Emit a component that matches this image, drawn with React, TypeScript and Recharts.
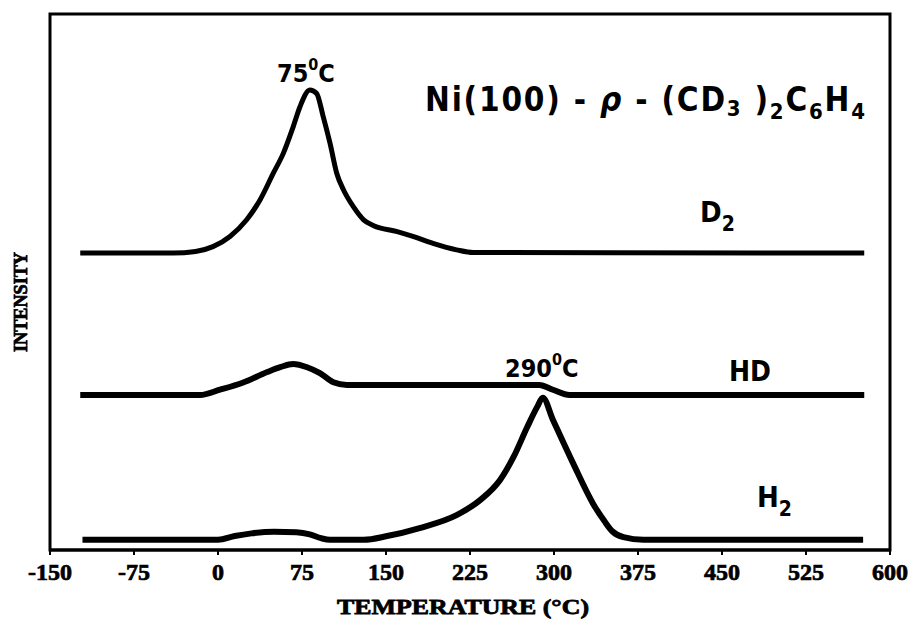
import { LineChart, Line, XAxis, YAxis, ReferenceArea } from "recharts";

// temperature ticks (°C)
const xTicks = [-150, -75, 0, 75, 150, 225, 300, 375, 450, 525, 600];

// D2 trace (offset intensity, arbitrary units)
const d2Temp = [-123, -40, -20, -4.5, 10.7, 25.6, 37.5, 49.4, 58.3, 67.2, 73.2, 82, 88, 94, 100, 106, 112, 121, 130, 139, 160, 174, 192, 213, 228, 577];
const d2Signal = [55.4, 55.4, 55.7, 56.6, 58.5, 61.6, 65.3, 70.3, 74.0, 79.0, 82.7, 85.8, 85.2, 80.8, 75.9, 70.3, 67.2, 64.0, 61.6, 60.5, 59.4, 58.5, 57.2, 56.0, 55.5, 55.4];

// HD trace
const hdTemp = [-123, -16, 1.8, 22, 44, 55.5, 67, 79.5, 91, 103, 115, 200, 287, 299, 314, 577];
const hdSignal = [28.9, 28.9, 29.9, 31.2, 33.2, 34.1, 34.7, 34.1, 33.0, 31.3, 30.8, 30.8, 30.8, 29.9, 28.9, 28.9];

// H2 trace
const h2Temp = [-121, 0, 15, 30, 50, 70, 82, 92, 100, 130, 151, 180, 213, 234, 252, 264, 276, 285, 290, 299, 317, 335, 345, 352, 362, 380, 576];
const h2Signal = [1.9, 1.9, 2.6, 3.1, 3.4, 3.3, 2.9, 2.2, 1.9, 1.9, 2.6, 4.1, 6.5, 9.3, 13.1, 17.4, 22.9, 26.7, 28.4, 24.3, 16.2, 8.6, 5.4, 3.5, 2.4, 1.9, 1.9];

const toPoints = (t: number[], v: number[]) => t.map((x, i) => ({ t: x, v: v[i] }));

const sans = "'DejaVu Sans Condensed', 'Liberation Sans', Arial, sans-serif";
const serif = "'Liberation Serif', 'DejaVu Serif', serif";

export default function App() {
  return (
    <div style={{ position: "absolute", left: 0, top: 0, width: 916, height: 625, background: "#fff" }}>
      <LineChart width={916} height={625} margin={{ top: 14, right: 26, bottom: 30, left: 50 }}>
        <XAxis
          xAxisId="b"
          type="number"
          dataKey="t"
          domain={[-150, 600]}
          ticks={xTicks}
          allowDataOverflow
          height={45}
          axisLine={{ stroke: "#000", strokeWidth: 3 }}
          tickLine={{ stroke: "#000", strokeWidth: 2 }}
          tickSize={5}
          tickMargin={8}
          tick={{ fill: "#000", stroke: "#000", strokeWidth: 0.7, fontSize: 24, fontWeight: 700, fontFamily: serif }}
        />
        <YAxis yAxisId="l" type="number" domain={[0, 100]} hide />

        {/* plot frame */}
        <ReferenceArea xAxisId="b" yAxisId="l" x1={-150} x2={600} y1={0} y2={100}
          fill="none" stroke="#000" strokeWidth={3} fillOpacity={0} />

        <Line xAxisId="b" yAxisId="l" data={toPoints(d2Temp, d2Signal)} dataKey="v" type="monotone"
          stroke="#000" strokeWidth={5} dot={false} activeDot={false} isAnimationActive={false} />
        <Line xAxisId="b" yAxisId="l" data={toPoints(hdTemp, hdSignal)} dataKey="v" type="monotone"
          stroke="#000" strokeWidth={6} dot={false} activeDot={false} isAnimationActive={false} />
        <Line xAxisId="b" yAxisId="l" data={toPoints(h2Temp, h2Signal)} dataKey="v" type="monotone"
          stroke="#000" strokeWidth={6} dot={false} activeDot={false} isAnimationActive={false} />
      </LineChart>

      {/* labels drawn over the chart */}
      <svg width={916} height={625} style={{ position: "absolute", left: 0, top: 0, pointerEvents: "none" }}>
        <g fill="#000" fontFamily={sans} fontWeight={700}>
          <text x={277} y={82} fontSize={25}>
            75<tspan fontSize={16} dy={-12}>0</tspan><tspan dy={12}>C</tspan>
          </text>
          <text x={425} y={111} fontSize={33} textLength={440} lengthAdjust="spacing">
            {"Ni(100) - "}<tspan fontStyle="italic">ρ</tspan>{" - (CD"}
            <tspan fontSize={22} dy={5}>3</tspan>
            <tspan dy={-5}>{" )"}</tspan>
            <tspan fontSize={22} dy={8}>2</tspan>
            <tspan dy={-8}>C</tspan>
            <tspan fontSize={22} dy={8}>6</tspan>
            <tspan dy={-8}>H</tspan>
            <tspan fontSize={22} dy={8}>4</tspan>
          </text>
          <text x={700} y={222} fontSize={29}>
            D<tspan fontSize={21} dy={9}>2</tspan>
          </text>
          <text x={729} y={381} fontSize={28}>HD</text>
          <text x={505} y={377} fontSize={25}>
            290<tspan fontSize={16} dy={-12}>0</tspan><tspan dy={12}>C</tspan>
          </text>
          <text x={757} y={507} fontSize={29}>
            H<tspan fontSize={21} dy={9}>2</tspan>
          </text>
        </g>
        <g fill="#000" stroke="#000" strokeWidth={0.8} fontWeight={700} fontFamily={serif}>
          <text x={463} y={614} textAnchor="middle" fontSize={22}
            textLength={252} lengthAdjust="spacingAndGlyphs">TEMPERATURE (°C)</text>
          <text transform="translate(27,302) rotate(-90)" textAnchor="middle" fontSize={19}
            textLength={100} lengthAdjust="spacingAndGlyphs">INTENSITY</text>
        </g>
      </svg>
    </div>
  );
}
